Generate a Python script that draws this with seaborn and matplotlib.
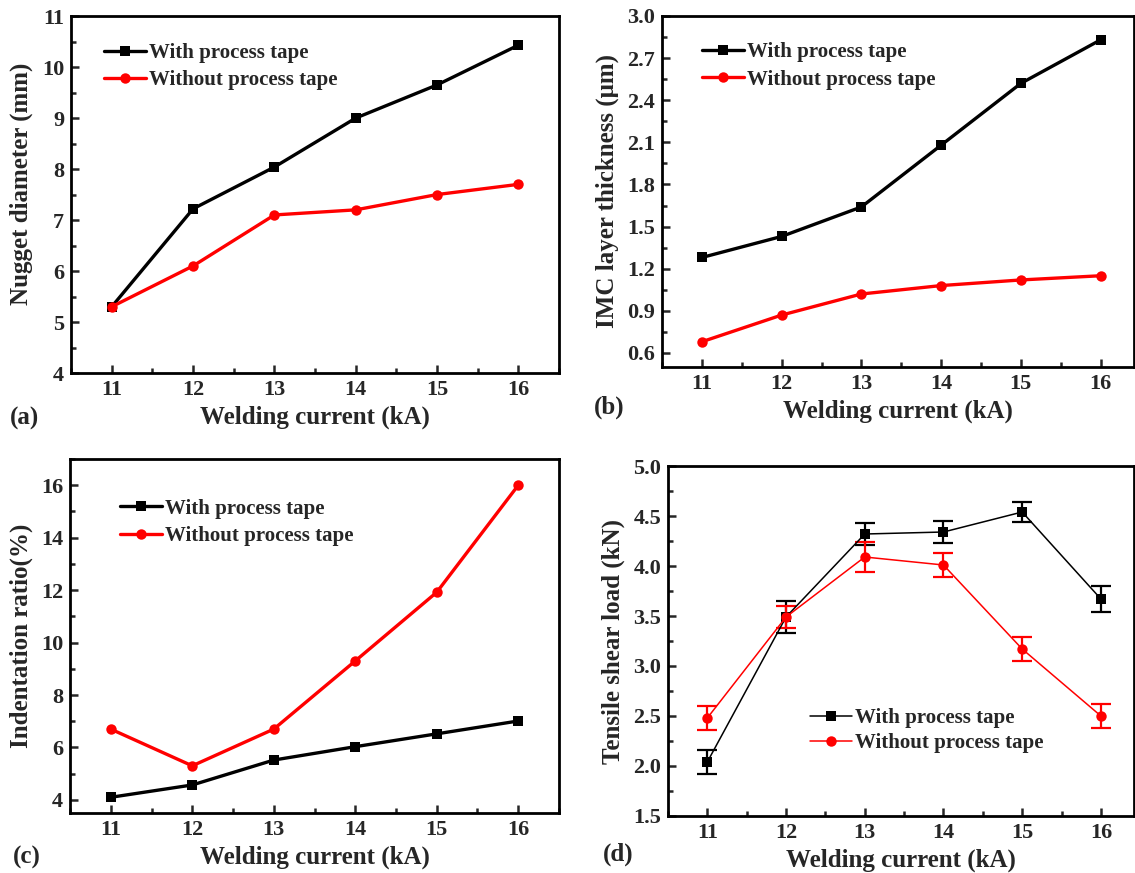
import pandas as pd
import matplotlib
matplotlib.use("Agg")
import matplotlib.pyplot as plt
import seaborn as sns
from matplotlib.ticker import MultipleLocator, FormatStrFormatter

sns.set_theme(style="ticks")
plt.rcParams["font.family"] = ["Liberation Serif", "DejaVu Serif"]
plt.rcParams["font.weight"] = "bold"
plt.rcParams["axes.labelweight"] = "bold"

# data
current = [11, 12, 13, 14, 15, 16]
series_names = ["With process tape", "Without process tape"]

nugget_with = [5.3, 7.22, 8.04, 9.0, 9.65, 10.43]
nugget_without = [5.3, 6.1, 7.1, 7.2, 7.5, 7.7]

imc_with = [1.28, 1.43, 1.64, 2.08, 2.52, 2.83]
imc_without = [0.68, 0.87, 1.02, 1.08, 1.12, 1.15]

indent_with = [4.1, 4.57, 5.52, 6.03, 6.52, 7.01]
indent_without = [6.7, 5.3, 6.7, 9.3, 11.92, 16.0]

tensile_with = [2.04, 3.49, 4.32, 4.34, 4.54, 3.67]
tensile_with_err = [0.12, 0.16, 0.11, 0.11, 0.10, 0.13]
tensile_without = [2.48, 3.49, 4.09, 4.01, 3.17, 2.50]
tensile_without_err = [0.12, 0.11, 0.15, 0.12, 0.12, 0.12]

palette = {series_names[0]: "#000000", series_names[1]: "#ff0000"}
markers = {series_names[0]: "s", series_names[1]: "o"}


def long_df(with_vals, without_vals):
    return pd.DataFrame({
        "current": current + current,
        "value": list(with_vals) + list(without_vals),
        "tape": [series_names[0]] * len(current) + [series_names[1]] * len(current),
    })


def draw_panel(ax, df, lw, ms):
    sns.lineplot(data=df, x="current", y="value", hue="tape", style="tape",
                 palette=palette, markers=markers, dashes=False,
                 linewidth=lw, markersize=ms, markeredgewidth=0,
                 errorbar=None, ax=ax, zorder=3)


def style_axes(ax, xlim, ylim, ymajor, yminor, ylabel, leg_anchor, leg_spacing=0.35):
    ax.set_xlim(*xlim)
    ax.set_ylim(*ylim)
    ax.xaxis.set_major_locator(MultipleLocator(1))
    ax.xaxis.set_minor_locator(MultipleLocator(0.5))
    ax.yaxis.set_major_locator(MultipleLocator(ymajor))
    ax.yaxis.set_minor_locator(MultipleLocator(yminor))
    ax.tick_params(which="both", direction="in", width=1.8, labelsize=16, pad=5)
    ax.tick_params(which="major", length=6)
    ax.tick_params(which="minor", length=3.5)
    for s in ax.spines.values():
        s.set_linewidth(2)
        s.set_color("black")
    ax.set_xlabel("Welding current (kA)", fontsize=18, fontweight="bold", labelpad=4)
    ax.set_ylabel(ylabel, fontsize=18, fontweight="bold", labelpad=6)
    ax.legend(loc="upper left", bbox_to_anchor=leg_anchor, frameon=False,
              fontsize=15, handlelength=2.0, handletextpad=0.15,
              labelspacing=leg_spacing, borderpad=0, borderaxespad=0)


fig = plt.figure(figsize=(11.35, 8.73), dpi=100)
ax_a = fig.add_axes([0.0626, 0.5727, 0.430, 0.4089])
ax_b = fig.add_axes([0.5833, 0.5796, 0.4159, 0.4021])
ax_c = fig.add_axes([0.0617, 0.0687, 0.4308, 0.4055])
ax_d = fig.add_axes([0.5885, 0.0653, 0.4106, 0.4009])

# (a) nugget diameter
draw_panel(ax_a, long_df(nugget_with, nugget_without), 2.4, 7.5)
style_axes(ax_a, (10.5, 16.5), (4, 11), 1, 0.5, "Nugget diameter (mm)", (0.068, 0.925))
ax_a.yaxis.set_label_coords(-0.078, 0.53)

# (b) IMC thickness
draw_panel(ax_b, long_df(imc_with, imc_without), 2.4, 7.5)
style_axes(ax_b, (10.5, 16.42), (0.5, 3.0), 0.3, 0.15, "IMC layer thickness (μm)", (0.085, 0.925))
ax_b.set_yticks([0.6, 0.9, 1.2, 1.5, 1.8, 2.1, 2.4, 2.7, 3.0])
ax_b.yaxis.set_major_formatter(FormatStrFormatter("%.1f"))

# (c) indentation ratio
draw_panel(ax_c, long_df(indent_with, indent_without), 2.4, 7.5)
style_axes(ax_c, (10.5, 16.5), (3.5, 17), 2, 1, "Indentation ratio(%)", (0.102, 0.888))
ax_c.set_yticks([4, 6, 8, 10, 12, 14, 16])

# (d) tensile shear load with error bars
ax_d.errorbar(current, tensile_with, yerr=tensile_with_err, fmt="none", ecolor="black",
              elinewidth=1.6, capsize=7, capthick=1.6, zorder=2)
ax_d.errorbar(current, tensile_without, yerr=tensile_without_err, fmt="none", ecolor="#ff0000",
              elinewidth=1.6, capsize=7, capthick=1.6, zorder=2)
draw_panel(ax_d, long_df(tensile_with, tensile_without), 1.1, 7.5)
style_axes(ax_d, (10.5, 16.42), (1.5, 5.0), 0.5, 0.25, "Tensile shear load (kN)", (0.305, 0.309), leg_spacing=0.25)
ax_d.yaxis.set_major_formatter(FormatStrFormatter("%.1f"))

# panel letters
for txt, x, y in [("(a)", 0.009, 0.521), ("(b)", 0.523, 0.533), ("(c)", 0.011, 0.018), ("(d)", 0.531, 0.021)]:
    fig.text(x, y, txt, fontsize=18, fontweight="bold", ha="left", va="center")

fig.savefig("out.png", dpi=100)
